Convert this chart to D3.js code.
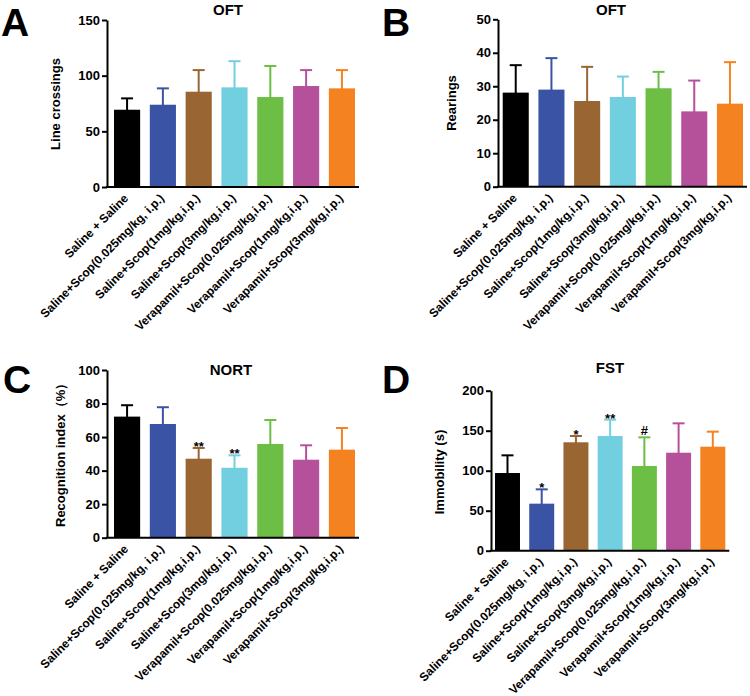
<!DOCTYPE html>
<html>
<head>
<meta charset="utf-8">
<script src="https://cdn.jsdelivr.net/npm/d3@7/dist/d3.min.js"></script>
<style>
  html, body { margin: 0; padding: 0; background: #fff; }
  svg { display: block; }
  text { font-family: "Liberation Sans", Arial, Helvetica, sans-serif; font-weight: bold; fill: #000; }
</style>
</head>
<body>
<svg id="chart" width="750" height="696"></svg>
<script>
// ---------- data ----------
const categories = [
  "Saline + Saline",
  "Saline+Scop(0.025mg/kg, i.p.)",
  "Saline+Scop(1mg/kg,i.p.)",
  "Saline+Scop(3mg/kg,i.p.)",
  "Verapamil+Scop(0.025mg/kg,i.p.)",
  "Verapamil+Scop(1mg/kg,i.p.)",
  "Verapamil+Scop(3mg/kg,i.p.)"
];
const barColors = ["#000000", "#3a53a4", "#996633", "#72cfdf", "#6cbe45", "#b5519b", "#f58220"];

const lineCrossMean = [69.4, 73.9, 85.6, 89.5, 80.8, 90.7, 88.6];
const lineCrossErr  = [10.2, 14.7, 19.4, 23.5, 27.9, 14.3, 16.4];
const lineCrossTicks = [0, 50, 100, 150];

const rearingMean = [28.1, 29.0, 25.6, 26.8, 29.4, 22.5, 24.8];
const rearingErr  = [8.2, 9.4, 10.2, 6.1, 4.9, 9.2, 12.4];
const rearingTicks = [0, 10, 20, 30, 40, 50];

const nortMean = [72.2, 67.8, 47.1, 41.7, 55.9, 46.5, 52.5];
const nortErr  = [6.8, 10.0, 6.4, 7.4, 14.3, 8.6, 12.9];
const nortMarks = ["", "", "**", "**", "", "", ""];
const nortTicks = [0, 20, 40, 60, 80, 100];

const fstMean = [97.1, 58.8, 135.5, 143.4, 105.9, 122.5, 130.0];
const fstErr  = [22.1, 17.9, 7.9, 20.4, 35.8, 36.7, 18.8];
const fstMarks = ["", "*", "*", "**", "#", "", ""];
const fstTicks = [0, 50, 100, 150, 200];

// ---------- layout ----------
const svg = d3.select("#chart");
svg.append("rect").attr("width", 750).attr("height", 696).attr("fill", "#fff");

function panel(cfg) {
  const g = svg.append("g");
  const x = d3.scaleBand().domain(categories).range([cfg.barL, cfg.barR]).paddingInner(0.27).paddingOuter(0);
  const y = d3.scaleLinear().domain([0, cfg.max]).range([cfg.yBottom, cfg.yTop]);
  const bw = x.bandwidth();
  const cx = c => x(c) + bw / 2;

  // bars
  g.selectAll("rect.bar").data(categories).join("rect")
    .attr("x", c => x(c)).attr("width", bw)
    .attr("y", (c, i) => y(cfg.mean[i]))
    .attr("height", (c, i) => y(0) - y(cfg.mean[i]))
    .attr("fill", (c, i) => barColors[i]);

  // error bars
  g.selectAll("line.err").data(categories).join("line")
    .attr("x1", cx).attr("x2", cx)
    .attr("y1", (c, i) => y(cfg.mean[i]) + 1)
    .attr("y2", (c, i) => y(cfg.mean[i] + cfg.err[i]))
    .attr("stroke", (c, i) => barColors[i]).attr("stroke-width", 2);
  g.selectAll("line.cap").data(categories).join("line")
    .attr("x1", c => cx(c) - 6).attr("x2", c => cx(c) + 6)
    .attr("y1", (c, i) => y(cfg.mean[i] + cfg.err[i]))
    .attr("y2", (c, i) => y(cfg.mean[i] + cfg.err[i]))
    .attr("stroke", (c, i) => barColors[i]).attr("stroke-width", 2);

  // significance marks
  if (cfg.marks) {
    g.selectAll("text.mark").data(categories).join("text")
      .attr("x", cx)
      .attr("y", (c, i) => y(cfg.mean[i] + cfg.err[i]) + (cfg.marks[i] === "#" ? -2 : 3))
      .attr("text-anchor", "middle")
      .style("font-size", "13px")
      .text((c, i) => cfg.marks[i]);
  }

  // y axis
  const ya = g.append("g").attr("transform", `translate(${cfg.axisX},0)`)
    .call(d3.axisLeft(y).tickValues(cfg.ticks).tickSize(5).tickSizeOuter(0).tickPadding(2));
  ya.select(".domain").attr("stroke", "#000").attr("stroke-width", 2);
  ya.selectAll(".tick line").attr("stroke", "#000").attr("stroke-width", 2);
  ya.selectAll(".tick text").style("font-size", "13px").style("font-family", "Liberation Sans, Arial, sans-serif").style("font-weight", "bold");

  // x axis line
  g.append("line")
    .attr("x1", cfg.axisX - 1).attr("x2", cfg.axisEnd)
    .attr("y1", y(0)).attr("y2", y(0))
    .attr("stroke", "#000").attr("stroke-width", 2);

  // x labels
  g.selectAll("text.xl").data(categories).join("text")
    .attr("transform", c => `translate(${cx(c) + 2},${y(0) + 12}) rotate(-45)`)
    .attr("text-anchor", "end")
    .style("font-size", "12px")
    .text(c => c);

  // title
  g.append("text").attr("x", cfg.titleX).attr("y", cfg.titleY)
    .attr("text-anchor", "middle").style("font-size", "15px").text(cfg.title);

  // y label
  g.append("text")
    .attr("transform", `translate(${cfg.ylX},${cfg.ylY}) rotate(-90)`)
    .attr("text-anchor", cfg.ylAnchor || "middle")
    .style("font-size", "13px").text(cfg.ylabel);

  // panel letter
  g.append("text").attr("x", cfg.letterX).attr("y", cfg.letterY)
    .style("font-size", "39px").text(cfg.letter);
}

panel({ mean: lineCrossMean, err: lineCrossErr, ticks: lineCrossTicks, max: 150,
  barL: 114, barR: 355, axisX: 107, axisEnd: 359, yBottom: 187, yTop: 20,
  title: "OFT", titleX: 228, titleY: 15, ylabel: "Line crossings", ylX: 60, ylY: 104,
  letter: "A", letterX: 1, letterY: 36 });

panel({ mean: rearingMean, err: rearingErr, ticks: rearingTicks, max: 50,
  barL: 502.7, barR: 743, axisX: 498, axisEnd: 747, yBottom: 186.7, yTop: 19.3,
  title: "OFT", titleX: 611, titleY: 15, ylabel: "Rearings", ylX: 456, ylY: 103,
  letter: "B", letterX: 382, letterY: 36 });

panel({ mean: nortMean, err: nortErr, marks: nortMarks, ticks: nortTicks, max: 100,
  barL: 114, barR: 355, axisX: 107, axisEnd: 359, yBottom: 537.7, yTop: 370,
  title: "NORT", titleX: 231, titleY: 375, ylabel: "Recognition index（%）", ylX: 65, ylY: 527, ylAnchor: "start",
  letter: "C", letterX: 3, letterY: 393 });

panel({ mean: fstMean, err: fstErr, marks: fstMarks, ticks: fstTicks, max: 200,
  barL: 495, barR: 725.3, axisX: 491, axisEnd: 729.3, yBottom: 550.7, yTop: 390.7,
  title: "FST", titleX: 610, titleY: 373, ylabel: "Immobility (s)", ylX: 444, ylY: 472,
  letter: "D", letterX: 382, letterY: 393 });
</script>
</body>
</html>
